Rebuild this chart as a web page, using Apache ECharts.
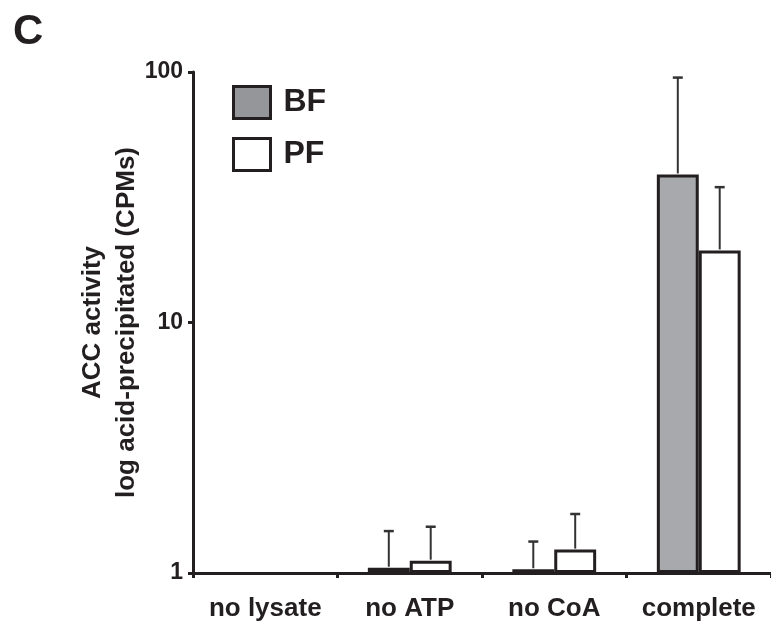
<!DOCTYPE html>
<html>
<head>
<meta charset="utf-8">
<script src="https://cdn.jsdelivr.net/npm/echarts@6/dist/echarts.min.js"></script>
<style>
html,body{margin:0;padding:0;background:#fff;}
#chart{width:771px;height:627px;}
</style>
</head>
<body>
<div id="chart"></div>
<script>
// ---- data ----
var categories = ['no lysate', 'no ATP', 'no CoA', 'complete'];
var seriesNames = ['BF', 'PF'];
var bfMean = [null, 1.05, 1.035, 39];
var pfMean = [null, 1.12, 1.24, 19.4];
var bfSd = [null, 0.42, 0.30, 56];
var pfSd = [null, 0.41, 0.48, 15.3];
var yTicks = [1, 10, 100];

var INK = '#231f20';
var GAP = 0.42;

function errSeries(name, means, sds, side) {
  var data = [];
  for (var i = 0; i < means.length; i++) {
    if (means[i] != null && sds[i] != null) data.push([i, means[i], means[i] + sds[i]]);
  }
  return {
    type: 'custom',
    name: name + ' error',
    z: 5,
    silent: true,
    data: data,
    encode: { x: 0, y: [1, 2] },
    renderItem: function (params, api) {
      var band = api.size([1, 0])[0];
      var off = side * band * (1 - GAP) / 4;
      var p0 = api.coord([api.value(0), api.value(1)]);
      var p1 = api.coord([api.value(0), api.value(2)]);
      var x = p0[0] + off;
      var cap = 5;
      return {
        type: 'group',
        children: [
          { type: 'line', shape: { x1: x, y1: p0[1] - 1, x2: x, y2: p1[1] }, style: { stroke: '#333', lineWidth: 2 } },
          { type: 'line', shape: { x1: x - cap, y1: p1[1], x2: x + cap, y2: p1[1] }, style: { stroke: '#333', lineWidth: 2.5 } }
        ]
      };
    }
  };
}

var chart = echarts.init(document.getElementById('chart'), null, { renderer: 'canvas' });
var font = '"Liberation Sans", Arial, sans-serif';
chart.setOption({
  animation: false,
  backgroundColor: '#fff',
  textStyle: { fontFamily: font },
  title: {
    text: 'C', left: 8, top: 6,
    textStyle: { fontFamily: font, fontWeight: 'bold', fontSize: 42, color: INK }
  },
  legend: {
    left: 232, top: 85, orient: 'vertical', padding: 0,
    itemWidth: 37, itemHeight: 32, itemGap: 17,
    icon: 'rect',
    textStyle: { fontFamily: font, fontWeight: 'bold', fontSize: 32, color: INK, padding: [0, 0, 0, 8] },
    data: [
      { name: 'BF', itemStyle: { color: '#959699', borderColor: INK, borderWidth: 3 } },
      { name: 'PF', itemStyle: { color: '#ffffff', borderColor: INK, borderWidth: 3 } }
    ]
  },
  grid: { left: 193, right: 0, top: 72, bottom: 54, containLabel: false },
  xAxis: {
    type: 'category',
    data: categories,
    axisLine: { lineStyle: { color: INK, width: 3 } },
    axisTick: { show: true, interval: 0, length: 5, lineStyle: { color: INK, width: 3 } },
    axisLabel: { interval: 0, fontFamily: font, fontWeight: 'bold', fontSize: 26, color: INK, margin: 23 }
  },
  yAxis: {
    type: 'log', logBase: 10, min: yTicks[0], max: yTicks[yTicks.length - 1],
    name: 'ACC activity\nlog acid-precipitated (CPMs)',
    nameLocation: 'middle', nameGap: 49, nameMoveOverlap: false,
    nameTextStyle: { fontFamily: font, fontWeight: 'bold', fontSize: 26, color: INK, lineHeight: 34 },
    axisLine: { show: true, lineStyle: { color: INK, width: 3 } },
    axisTick: { show: true, length: 5, lineStyle: { color: INK, width: 3 } },
    axisLabel: { fontFamily: font, fontWeight: 'bold', fontSize: 23, color: INK, margin: 10 },
    splitLine: { show: false }
  },
  series: [
    {
      type: 'bar', name: seriesNames[0], data: bfMean,
      barGap: '0%', barCategoryGap: (GAP * 100) + '%',
      itemStyle: { color: '#a7a9ac', borderColor: INK, borderWidth: 3 }
    },
    {
      type: 'bar', name: seriesNames[1], data: pfMean,
      barGap: '0%', barCategoryGap: (GAP * 100) + '%',
      itemStyle: { color: '#ffffff', borderColor: INK, borderWidth: 3 }
    },
    errSeries(seriesNames[0], bfMean, bfSd, -1),
    errSeries(seriesNames[1], pfMean, pfSd, 1)
  ]
});
</script>
</body>
</html>
